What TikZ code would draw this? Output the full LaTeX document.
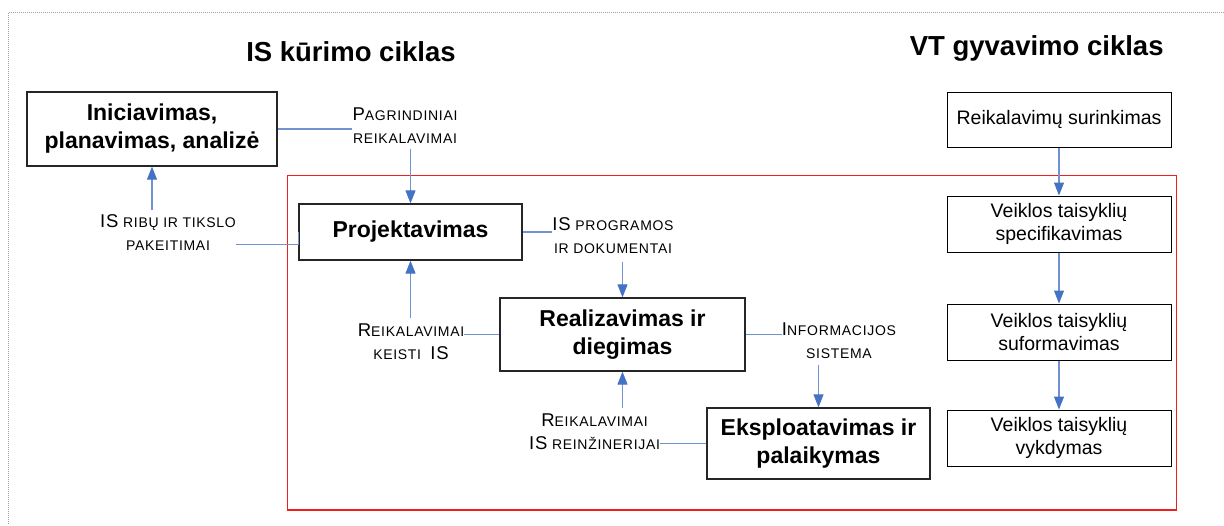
\documentclass[tikz,border=0pt]{standalone}
\usepackage{fontspec}
\setmainfont{Liberation Sans}
\usetikzlibrary{arrows.meta}
\definecolor{connc}{RGB}{112,146,208}
\definecolor{headc}{RGB}{68,114,196}
\definecolor{framec}{RGB}{160,160,160}
\definecolor{redc}{RGB}{240,30,30}
% full-size capital inside a small-caps label
\newcommand\BigC[1]{{\fontsize{18.5}{23}\selectfont #1}}
\tikzset{
  stage/.style={draw=black!85, line width=1.3pt, align=center, inner sep=0pt,
    font=\fontsize{23}{28}\selectfont\bfseries},
  vtbox/.style={draw=black, line width=1pt, align=center, inner sep=0pt,
    minimum width=224, minimum height=56, font=\fontsize{19.5}{22.5}\selectfont},
  lbl/.style={align=center, inner sep=0pt,
    font=\fontsize{14}{23}\selectfont\addfontfeature{LetterSpace=5}},
  title/.style={anchor=base, inner sep=0pt, font=\fontsize{27.5}{32}\selectfont\bfseries},
  conn/.style={draw=connc, line width=1.1pt},
  arr/.style={conn, -{Triangle[length=13pt,width=10pt,color=headc]}}
}
\begin{document}
\begin{tikzpicture}[x=1pt,y=-1pt]
\useasboundingbox (0,0) rectangle (1224,525);
% page frame
\draw[framec, line width=1.5pt, dash pattern=on 1pt off 1pt] (1224,12.5) -- (8.5,12.5) -- (8.5,525);

% titles
\node[title] (t1) at (351,61.7) {IS kūrimo ciklas};
\node[title] (t2) at (1036.7,55) {VT gyvavimo ciklas};

% scope frame of the process
\draw[redc, line width=1.2pt] (287.5,175.5) rectangle (1176.5,510);

% IS development stages
\node[stage, minimum width=250, minimum height=74] (init) at (152,129) {Iniciavimas,\\planavimas, analizė};
\node[stage, minimum width=223, minimum height=56] (proj) at (410.5,232) {Projektavimas};
\node[stage, minimum width=245, minimum height=73] (real) at (622.5,334.5) {Realizavimas ir\\diegimas};
\node[stage, minimum width=223, minimum height=71] (eksp) at (818.5,443.5) {Eksploatavimas ir\\palaikymas};

% business rules life cycle
\node[vtbox, minimum height=55] (r1) at (1059,119.5) {Reikalavimų surinkimas};
\node[vtbox] (r2) at (1059,224) {Veiklos taisyklių\\specifikavimas};
\node[vtbox] (r3) at (1059,332) {Veiklos taisyklių\\suformavimas};
\node[vtbox] (r4) at (1059,438) {Veiklos taisyklių\\vykdymas};

% flow labels
\node[lbl] (L1) at (405,125.5) {\BigC{P}AGRINDINIAI\\REIKALAVIMAI};
\node[lbl] (L2) at (168,232.5) {\BigC{IS} RIBŲ IR TIKSLO\\PAKEITIMAI};
\node[lbl] (L3) at (613,236) {\BigC{IS} PROGRAMOS\\IR DOKUMENTAI};
\node[lbl] (L4) at (411,342) {\BigC{R}EIKALAVIMAI\\KEISTI\ \ \BigC{IS}};
\node[lbl] (L5) at (839,340.5) {\BigC{I}NFORMACIJOS\\SISTEMA};
\node[lbl] (L6) at (594.5,432) {\BigC{R}EIKALAVIMAI\\\BigC{IS} REINŽINERIJAI};

% connectors
\draw[conn] (init.east) -- (init.east -| L1.west);
\draw[arr] ([yshift=-5pt]proj.north |- L1.south) -- (proj.north);
\draw[arr] ([yshift=4pt]init.south |- L2.north) -- (init.south);
\draw[conn] (proj.west) |- ([yshift=-12pt]L2.east);
\draw[conn] (proj.east) -- (proj.east -| L3.west);
\draw[arr] ([yshift=-8pt]real.north |- L3.south) -- (real.north);
\draw[conn] (real.west) -- (real.west -| L4.east);
\draw[arr] ([yshift=6pt]proj.south |- L4.north) -- (proj.south);
\draw[conn] (real.east) -- (real.east -| L5.west);
\draw[arr] ([yshift=-6pt]eksp.north |- L5.south) -- (eksp.north);
\draw[conn] (eksp.west) -- (eksp.west -| L6.east);
\draw[arr] ([yshift=6pt]real.south |- L6.north) -- (real.south);

\draw[arr] (r1) -- (r2);
\draw[arr] (r2) -- (r3);
\draw[arr] (r3) -- (r4);
\end{tikzpicture}
\end{document}
